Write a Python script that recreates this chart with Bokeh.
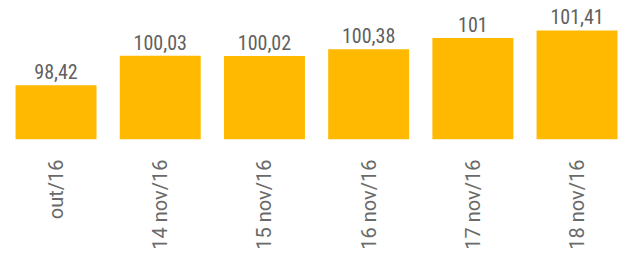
from bokeh.plotting import figure
from bokeh.models import Range1d, FixedTicker, ColumnDataSource, LabelSet
from bokeh.core.properties import value
from bokeh.embed import file_html
from bokeh.resources import INLINE

categories = ["out/16", "14 nov/16", "15 nov/16", "16 nov/16", "17 nov/16", "18 nov/16"]
values = [98.42, 100.03, 100.02, 100.38, 101.0, 101.41]
value_labels = ["98,42", "100,03", "100,02", "100,38", "101", "101,41"]

xs = list(range(len(categories)))
src = ColumnDataSource(dict(x=xs, top=values, lab=value_labels))

p = figure(width=622, height=255, output_backend="svg", toolbar_location=None,
           x_range=Range1d(-0.533, 5.436), y_range=Range1d(95.45, 103.05),
           min_border_left=0, min_border_right=0, min_border_top=0, min_border_bottom=116)
p.vbar(x="x", top="top", bottom=95.45, width=0.777, source=src, color="#FFB900", line_color=None)

labels = LabelSet(x="x", y="top", text="lab", source=src, text_align="center",
                  text_baseline="alphabetic", y_offset=6, text_color="#606060",
                  text_font=value("Roboto Condensed"), text_font_size=value("20px"))
p.add_layout(labels)

p.xaxis.ticker = FixedTicker(ticks=xs)
p.xaxis.major_label_overrides = {i: c for i, c in enumerate(categories)}
p.xaxis.major_label_orientation = 1.5707963
p.xaxis.major_label_text_font = "Roboto"
p.xaxis.major_label_text_font_size = "20px"
p.xaxis.major_label_text_color = "#6a6a6a"
p.xaxis.major_label_standoff = 14
p.xaxis.axis_line_color = None
p.xaxis.major_tick_line_color = None
p.xaxis.minor_tick_line_color = None
p.yaxis.visible = False
p.xgrid.visible = False
p.ygrid.visible = False
p.outline_line_color = None

open("out.html", "w").write(file_html(p, INLINE))
